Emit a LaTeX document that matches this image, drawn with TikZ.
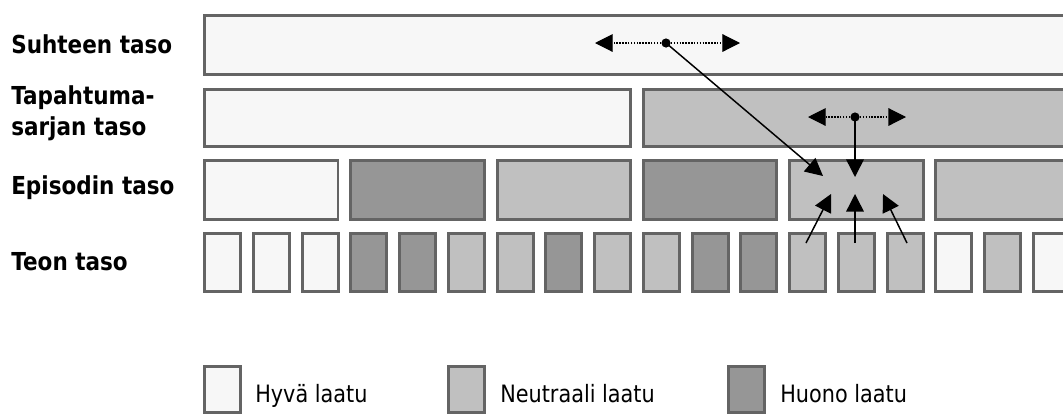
\documentclass[tikz,border=0pt]{standalone}
\usepackage{fontspec}
\usetikzlibrary{arrows.meta}
\newfontfamily\tahoma[FakeStretch=0.87]{DejaVu Sans}
\definecolor{hyva}{HTML}{F7F7F7}
\definecolor{neutraali}{HTML}{C0C0C0}
\definecolor{huono}{HTML}{969696}
\definecolor{reuna}{HTML}{646464}

\begin{document}
\begin{tikzpicture}[x=0.025cm,y=-0.025cm,
  taso/.style={draw=reuna, line width=2.1pt, anchor=north west, inner sep=0pt, outer sep=0pt},
  otsikko/.style={anchor=west, inner sep=0pt, align=left, font=\tahoma\bfseries\fontsize{17.6}{22}\selectfont},
  selite/.style={anchor=base west, inner sep=0pt, font=\tahoma\fontsize{17}{22}\selectfont},
  nuoli/.style={-{Triangle[length=12.5pt,width=12.5pt]}, line width=1.05pt},
  pisteet/.style={nuoli, densely dotted, line width=0.8pt},
  napa/.style={circle, fill=black, inner sep=0pt, minimum size=0.23cm}]

\useasboundingbox (0,0) rectangle (1063,417);
\clip (0,0) rectangle (1063,417);

% tasojen nimet
\node[otsikko] (suhde) at (11,44) {Suhteen taso};
\node[otsikko] (sarja) at (11,113) {Tapahtuma-\\sarjan taso};
\node[otsikko] (episodi) at (11,188) {Episodin taso};
\node[otsikko] (teko) at (11,262) {Teon taso};

% suhteen taso
\node[taso, fill=hyva, minimum width=900*0.025cm, minimum height=58.7*0.025cm] (suhdetaso) at (204.5,15.5) {};

% tapahtumasarjan taso
\node[taso, fill=hyva, minimum width=426*0.025cm, minimum height=57*0.025cm] (sarja1) at (204.5,89.2) {};
\node[taso, fill=neutraali, minimum width=500*0.025cm, minimum height=57*0.025cm] (sarja2) at (643.5,89.2) {};

% episodin taso, 3 tekoa / episodi
\foreach \j/\q in {0/hyva,1/huono,2/neutraali,3/huono,4/neutraali,5/neutraali}{
	\node[taso, fill=\q, minimum width=133.5*0.025cm, minimum height=59*0.025cm] (ep\j) at (204.5+146.28*\j,160.2) {};
}

% teon taso
\foreach \i/\q in {0/hyva,1/hyva,2/hyva,3/huono,4/huono,5/neutraali,6/neutraali,7/huono,8/neutraali,
	9/neutraali,10/huono,11/huono,12/neutraali,13/neutraali,14/neutraali,15/hyva,16/neutraali,17/hyva}{
	\node[taso, fill=\q, minimum width=36*0.025cm, minimum height=58*0.025cm] (teko\i) at (204.5+48.76*\i,233.8) {};
}

% selitteet
\node[taso, fill=hyva, minimum width=36*0.025cm, minimum height=46*0.025cm] (s1) at (204.5,366.5) {};
\node[selite] (t1) at (255,402) {Hyvä laatu};
\node[taso, fill=neutraali, minimum width=36*0.025cm, minimum height=46*0.025cm] (s2) at (448.5,366.5) {};
\node[selite] (t2) at (500,402) {Neutraali laatu};
\node[taso, fill=huono, minimum width=36*0.025cm, minimum height=46*0.025cm] (s3) at (728.5,366.5) {};
\node[selite] (t3) at (780,402) {Huono laatu};

% nuolet
\node[napa] (napa1) at (666,43) {};
\node[napa] (napa2) at (855,117) {};
\coordinate (v1) at (595,43); \coordinate (o1) at (740,43);
\coordinate (v2) at (808,117); \coordinate (o2) at (906,117);
\coordinate (k1) at (823,176); \coordinate (k2) at (855,177);
\draw[pisteet] (napa1) -- (v1);
\draw[pisteet] (napa1) -- (o1);
\draw[pisteet] (napa2) -- (v2);
\draw[pisteet] (napa2) -- (o2);
\draw[nuoli] (napa1.center) -- (k1);
\draw[nuoli] (napa2.center) -- (k2);

% teot -> episodi
\coordinate (a1) at (806,243); \coordinate (y1) at (831,194);
\coordinate (a2) at (855,243); \coordinate (y2) at (855,194);
\coordinate (a3) at (907,243); \coordinate (y3) at (883,194);
\foreach \n in {1,2,3}
	\draw[nuoli] (a\n) -- (y\n);

\end{tikzpicture}
\end{document}
